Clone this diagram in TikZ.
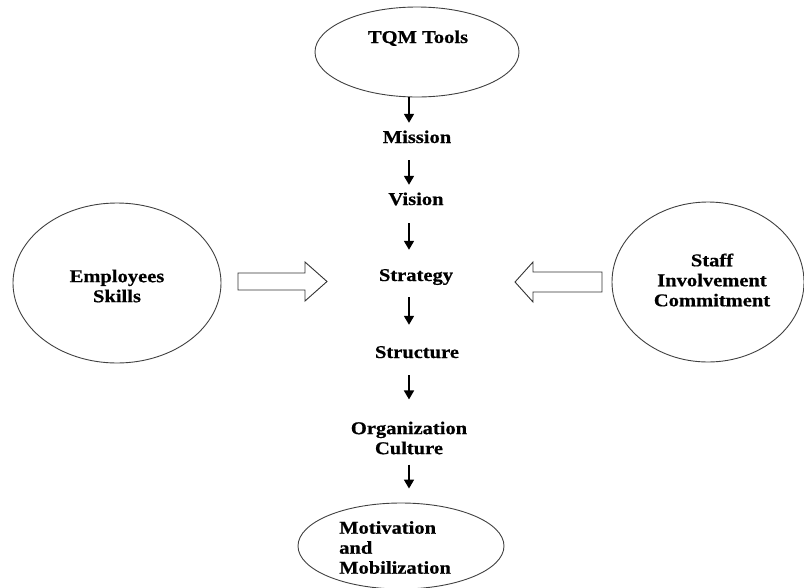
\documentclass[tikz,border=0pt]{standalone}
\usepackage{fontspec}
\setmainfont{Liberation Serif}[FakeStretch=1.14, BoldFeatures={FakeBold=0.6}]
\usetikzlibrary{arrows.meta,shapes.geometric}
\tikzset{
  oval/.style={ellipse, draw=black!75, line width=0.9pt, inner sep=0pt},
  lbl/.style={font=\fontsize{18}{20}\selectfont\bfseries, inner sep=0pt, text height=12pt, text depth=4pt},
  mlbl/.style={font=\fontsize{18}{20}\selectfont\bfseries, inner sep=0pt, align=center},
  flow/.style={line width=1.7pt, -{Triangle[width=10pt,length=9pt]}},
  block/.style={draw=black!80, line width=0.9pt, fill=white, line join=miter},
}
\begin{document}
\begin{tikzpicture}[x=1pt, y=-1pt]
\useasboundingbox (0,0) rectangle (804,587);

% ellipses
\node[oval, minimum width=204pt, minimum height=90pt] (tqm) at (417,52) {};
\node[lbl] (tqmt) at (418,39) {TQM Tools};
\node[oval, minimum width=208pt, minimum height=160pt] (emp) at (117,283) {};
\node[mlbl] (empt) at (117,286) {Employees\\Skills};
\node[oval, minimum width=192pt, minimum height=160pt] (staff) at (708,282) {};
\node[mlbl] (stafft) at (712,280) {Staff\\Involvement\\Commitment};
\node[oval, minimum width=206pt, minimum height=86pt] (motiv) at (401,546) {};
\node[mlbl, align=left, anchor=north west] (motivt) at (339,521) {Motivation\\and\\Mobilization};

% chain labels
\node[lbl] (mission) at (417,139) {Mission};
\node[lbl] (vision) at (416,201) {Vision};
\node[lbl] (strategy) at (416,277) {Strategy};
\node[lbl] (structure) at (417,354) {Structure};
\node[mlbl] (org) at (409,438) {Organization\\Culture};

\coordinate (ax) at (409,0);

% chain arrows
\draw[flow, shorten >=8pt] (tqm.south -| ax) -- (mission.north -| ax);
\draw[flow, shorten <=13pt, shorten >=8pt] (mission.south -| ax) -- (vision.north -| ax);
\draw[flow, shorten <=14pt, shorten >=19pt] (vision.south -| ax) -- (strategy.north -| ax);
\draw[flow, shorten <=12pt, shorten >=21pt] (strategy.south -| ax) -- (structure.north -| ax);
\draw[flow, shorten <=13pt, shorten >=22pt] (structure.south -| ax) -- (org.north -| ax);
\draw[flow, shorten <=10pt, shorten >=14pt] (org.south -| ax) -- (motiv.north -| ax);

% block arrows
\draw[block] (238,273) -- (305,273) -- (305,262) -- (327,281.5) -- (305,301) -- (305,290) -- (238,290) -- cycle;
\draw[block] (602,272) -- (533,272) -- (533,262) -- (515,282) -- (533,302) -- (533,292) -- (602,292) -- cycle;
\end{tikzpicture}
\end{document}
